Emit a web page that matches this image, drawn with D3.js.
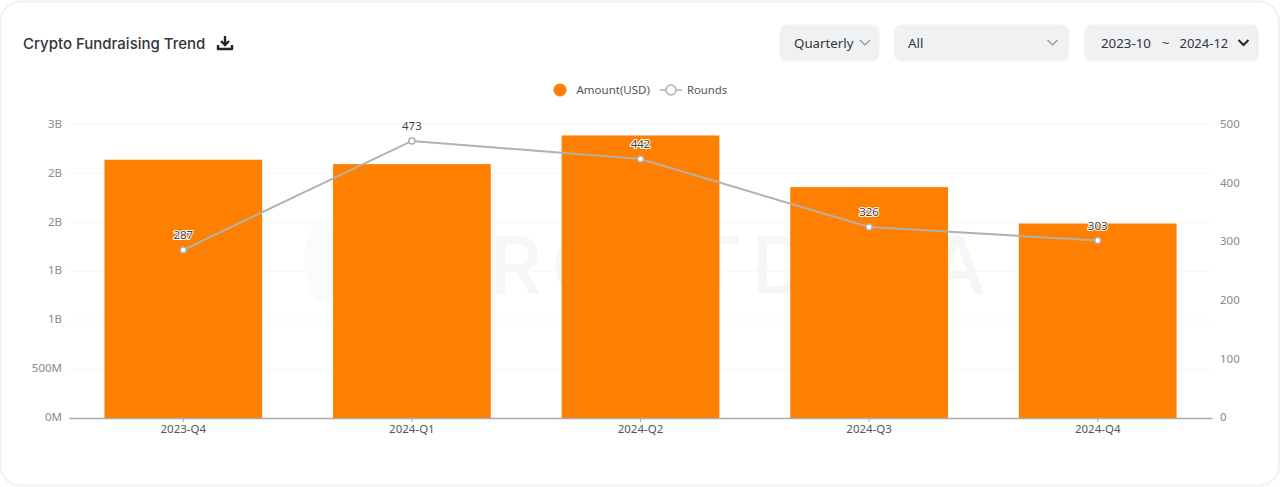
<!DOCTYPE html>
<html>
<head>
<meta charset="utf-8">
<script src="https://cdn.jsdelivr.net/npm/d3@7"></script>
<style>
html, body { margin: 0; padding: 0; background: #fff; overflow: hidden; }
text { font-family: "Noto Sans", sans-serif; }
</style>
</head>
<body>
<script>
var quarters = ["2023-Q4", "2024-Q1", "2024-Q2", "2024-Q3", "2024-Q4"];
var amounts = [2.64e9, 2.595e9, 2.888e9, 2.36e9, 1.988e9];
var rounds = [287, 473, 442, 326, 303];
var amountTicks = [0, 0.5e9, 1e9, 1.5e9, 2e9, 2.5e9, 3e9];
var amountLabels = ["0M", "500M", "1B", "1B", "2B", "2B", "3B"];
var roundTicks = [0, 100, 200, 300, 400, 500];

var orange = "#ff8000",
    lineCol = "#b4b1a9",
    textCol = "#8a8a8a";

var width = 1280, height = 487;
var margin = {top: 124.5, right: 68, bottom: 69, left: 69};

var svg = d3.select("body").append("svg")
    .attr("width", width)
    .attr("height", height)
    .style("display", "block");

// --- Card ---
svg.append("rect")
    .attr("x", 0.5).attr("y", 1.5)
    .attr("width", 1278.5).attr("height", 484)
    .attr("rx", 20)
    .attr("fill", "#fff")
    .attr("stroke", "#f0f1f2")
    .attr("stroke-width", 2);

// --- Scales ---
var x = d3.scaleBand()
    .domain(quarters)
    .range([margin.left, width - margin.right])
    .paddingInner(0.31)
    .paddingOuter(0.155);

var yAmount = d3.scaleLinear()
    .domain([0, 3e9])
    .range([height - margin.bottom, margin.top]);

var yRounds = d3.scaleLinear()
    .domain([0, 500])
    .range([height - margin.bottom, margin.top + 0.6]);

// --- Grid ---
svg.append("g").selectAll("line")
    .data(amountTicks.slice(1))
    .join("line")
    .attr("x1", margin.left)
    .attr("x2", width - margin.right)
    .attr("y1", d => yAmount(d))
    .attr("y2", d => yAmount(d))
    .attr("stroke", "#f7f7f7");

// --- Watermark ---
svg.append("text")
    .text("ROOTDATA")
    .attr("x", 490)
    .attr("y", 294)
    .attr("font-size", 80)
    .attr("font-weight", 500)
    .attr("textLength", 496)
    .attr("lengthAdjust", "spacing")
    .style("font-family", "Inter, sans-serif")
    .attr("fill", "#f6f6f6");

svg.append("ellipse")
    .attr("cx", 322).attr("cy", 262)
    .attr("rx", 18).attr("ry", 40)
    .attr("fill", "#fbfbfb");

// --- Bars ---
svg.append("g").selectAll("rect")
    .data(quarters)
    .join("rect")
    .attr("x", d => x(d))
    .attr("y", (d, i) => yAmount(amounts[i]))
    .attr("width", x.bandwidth())
    .attr("height", (d, i) => yAmount(0) - yAmount(amounts[i]))
    .attr("fill", orange);

// --- Axes ---
var axisLeft = d3.axisLeft(yAmount)
    .tickValues(amountTicks)
    .tickFormat((d, i) => amountLabels[i])
    .tickSize(0)
    .tickPadding(7);

var gLeft = svg.append("g")
    .attr("transform", "translate(" + margin.left + ",0)")
    .call(axisLeft);
gLeft.select(".domain").remove();
gLeft.selectAll("text")
    .attr("y", -1)
    .attr("font-size", 11.5)
    .style("font-family", '"Noto Sans", sans-serif')
    .attr("fill", textCol);

var axisRight = d3.axisRight(yRounds)
    .tickValues(roundTicks)
    .tickSize(0)
    .tickPadding(8);

var gRight = svg.append("g")
    .attr("transform", "translate(" + (width - margin.right) + ",0)")
    .call(axisRight);
gRight.select(".domain").remove();
gRight.selectAll("text")
    .attr("y", -1)
    .attr("font-size", 11.5)
    .style("font-family", '"Noto Sans", sans-serif')
    .attr("fill", textCol);

var axisBottom = d3.axisBottom(x)
    .tickSize(4)
    .tickPadding(3)
    .tickSizeOuter(0);

var gBottom = svg.append("g")
    .attr("transform", "translate(0," + (height - margin.bottom) + ")")
    .call(axisBottom);
gBottom.select(".domain").attr("stroke", "#a9a9a9").attr("stroke-width", 1.3);
gBottom.selectAll("line").attr("stroke", "#a9a9a9");
gBottom.selectAll("text")
    .attr("font-size", 11.5)
    .style("font-family", '"Noto Sans", sans-serif')
    .attr("fill", "#555");

// --- Rounds line ---
var line = d3.line()
    .x(d => x(d) + x.bandwidth() / 2)
    .y((d, i) => yRounds(rounds[i]));

svg.append("path")
    .datum(quarters)
    .attr("d", line)
    .attr("fill", "none")
    .attr("stroke", lineCol)
    .attr("stroke-width", 2);

svg.append("g").selectAll("circle")
    .data(quarters)
    .join("circle")
    .attr("cx", d => x(d) + x.bandwidth() / 2)
    .attr("cy", (d, i) => yRounds(rounds[i]))
    .attr("r", 3)
    .attr("fill", "#fff")
    .attr("stroke", lineCol)
    .attr("stroke-width", 1.5);

svg.append("g").selectAll("text")
    .data(quarters)
    .join("text")
    .text((d, i) => rounds[i])
    .attr("x", d => x(d) + x.bandwidth() / 2)
    .attr("y", (d, i) => yRounds(rounds[i]) - 11)
    .attr("text-anchor", "middle")
    .attr("font-size", 11.5)
    .attr("fill", "#444")
    .attr("stroke", "#fff")
    .attr("stroke-width", 2)
    .attr("paint-order", "stroke");

// --- Legend ---
svg.append("circle")
    .attr("cx", 560).attr("cy", 90).attr("r", 6.5)
    .attr("fill", orange);
svg.append("text")
    .text("Amount(USD)")
    .attr("x", 576.5).attr("y", 93.5)
    .attr("font-size", 11.5)
    .attr("fill", "#555");
svg.append("line")
    .attr("x1", 660).attr("x2", 682)
    .attr("y1", 90).attr("y2", 90)
    .attr("stroke", lineCol)
    .attr("stroke-width", 1.5);
svg.append("circle")
    .attr("cx", 671).attr("cy", 90).attr("r", 5)
    .attr("fill", "#fff")
    .attr("stroke", lineCol)
    .attr("stroke-width", 1.5);
svg.append("text")
    .text("Rounds")
    .attr("x", 687).attr("y", 93.5)
    .attr("font-size", 11.3)
    .attr("fill", "#555");

// --- Title ---
svg.append("text")
    .text("Crypto Fundraising Trend")
    .attr("x", 23).attr("y", 48.5)
    .attr("font-size", 15)
    .attr("font-weight", 500)
    .style("font-family", "Inter, sans-serif")
    .attr("fill", "#33353a");

// download icon
var icon = svg.append("g").attr("transform", "translate(217,35)");
icon.append("path")
    .attr("d", "M8 1 V9 M4 6 L8 10 L12 6")
    .attr("fill", "none")
    .attr("stroke", "#23252b")
    .attr("stroke-width", 2.4);
icon.append("path")
    .attr("d", "M1 10 V14 H15 V10")
    .attr("fill", "none")
    .attr("stroke", "#23252b")
    .attr("stroke-width", 2.4)
    .attr("stroke-linejoin", "round");

// --- Controls ---
function control(xPos, w, label, labelX, chevX, dark) {
    svg.append("rect")
        .attr("x", xPos).attr("y", 24.5)
        .attr("width", w).attr("height", 37)
        .attr("rx", 8)
        .attr("fill", "#eff1f3");
    svg.append("text")
        .text(label)
        .attr("x", labelX).attr("y", 47.5)
        .attr("font-size", 13.3)
        .attr("fill", "#33353a");
    svg.append("path")
        .attr("d", "M" + (chevX - 5) + " 40 L" + chevX + " 45 L" + (chevX + 5) + " 40")
        .attr("fill", "none")
        .attr("stroke", dark ? "#23252b" : "#8d9096")
        .attr("stroke-width", dark ? 2 : 1.2);
}
control(779.5, 100, "Quarterly", 794, 865, false);
control(894, 175, "All", 908, 1052.5, false);
control(1084, 175, "2023-10", 1101, 1243.5, true);
svg.append("text").text("~").attr("x", 1162).attr("y", 47.5)
    .attr("font-size", 13).attr("fill", "#33353a");
svg.append("text").text("2024-12").attr("x", 1179.5).attr("y", 47.5)
    .attr("font-size", 13).attr("fill", "#33353a");
</script>
</body>
</html>
